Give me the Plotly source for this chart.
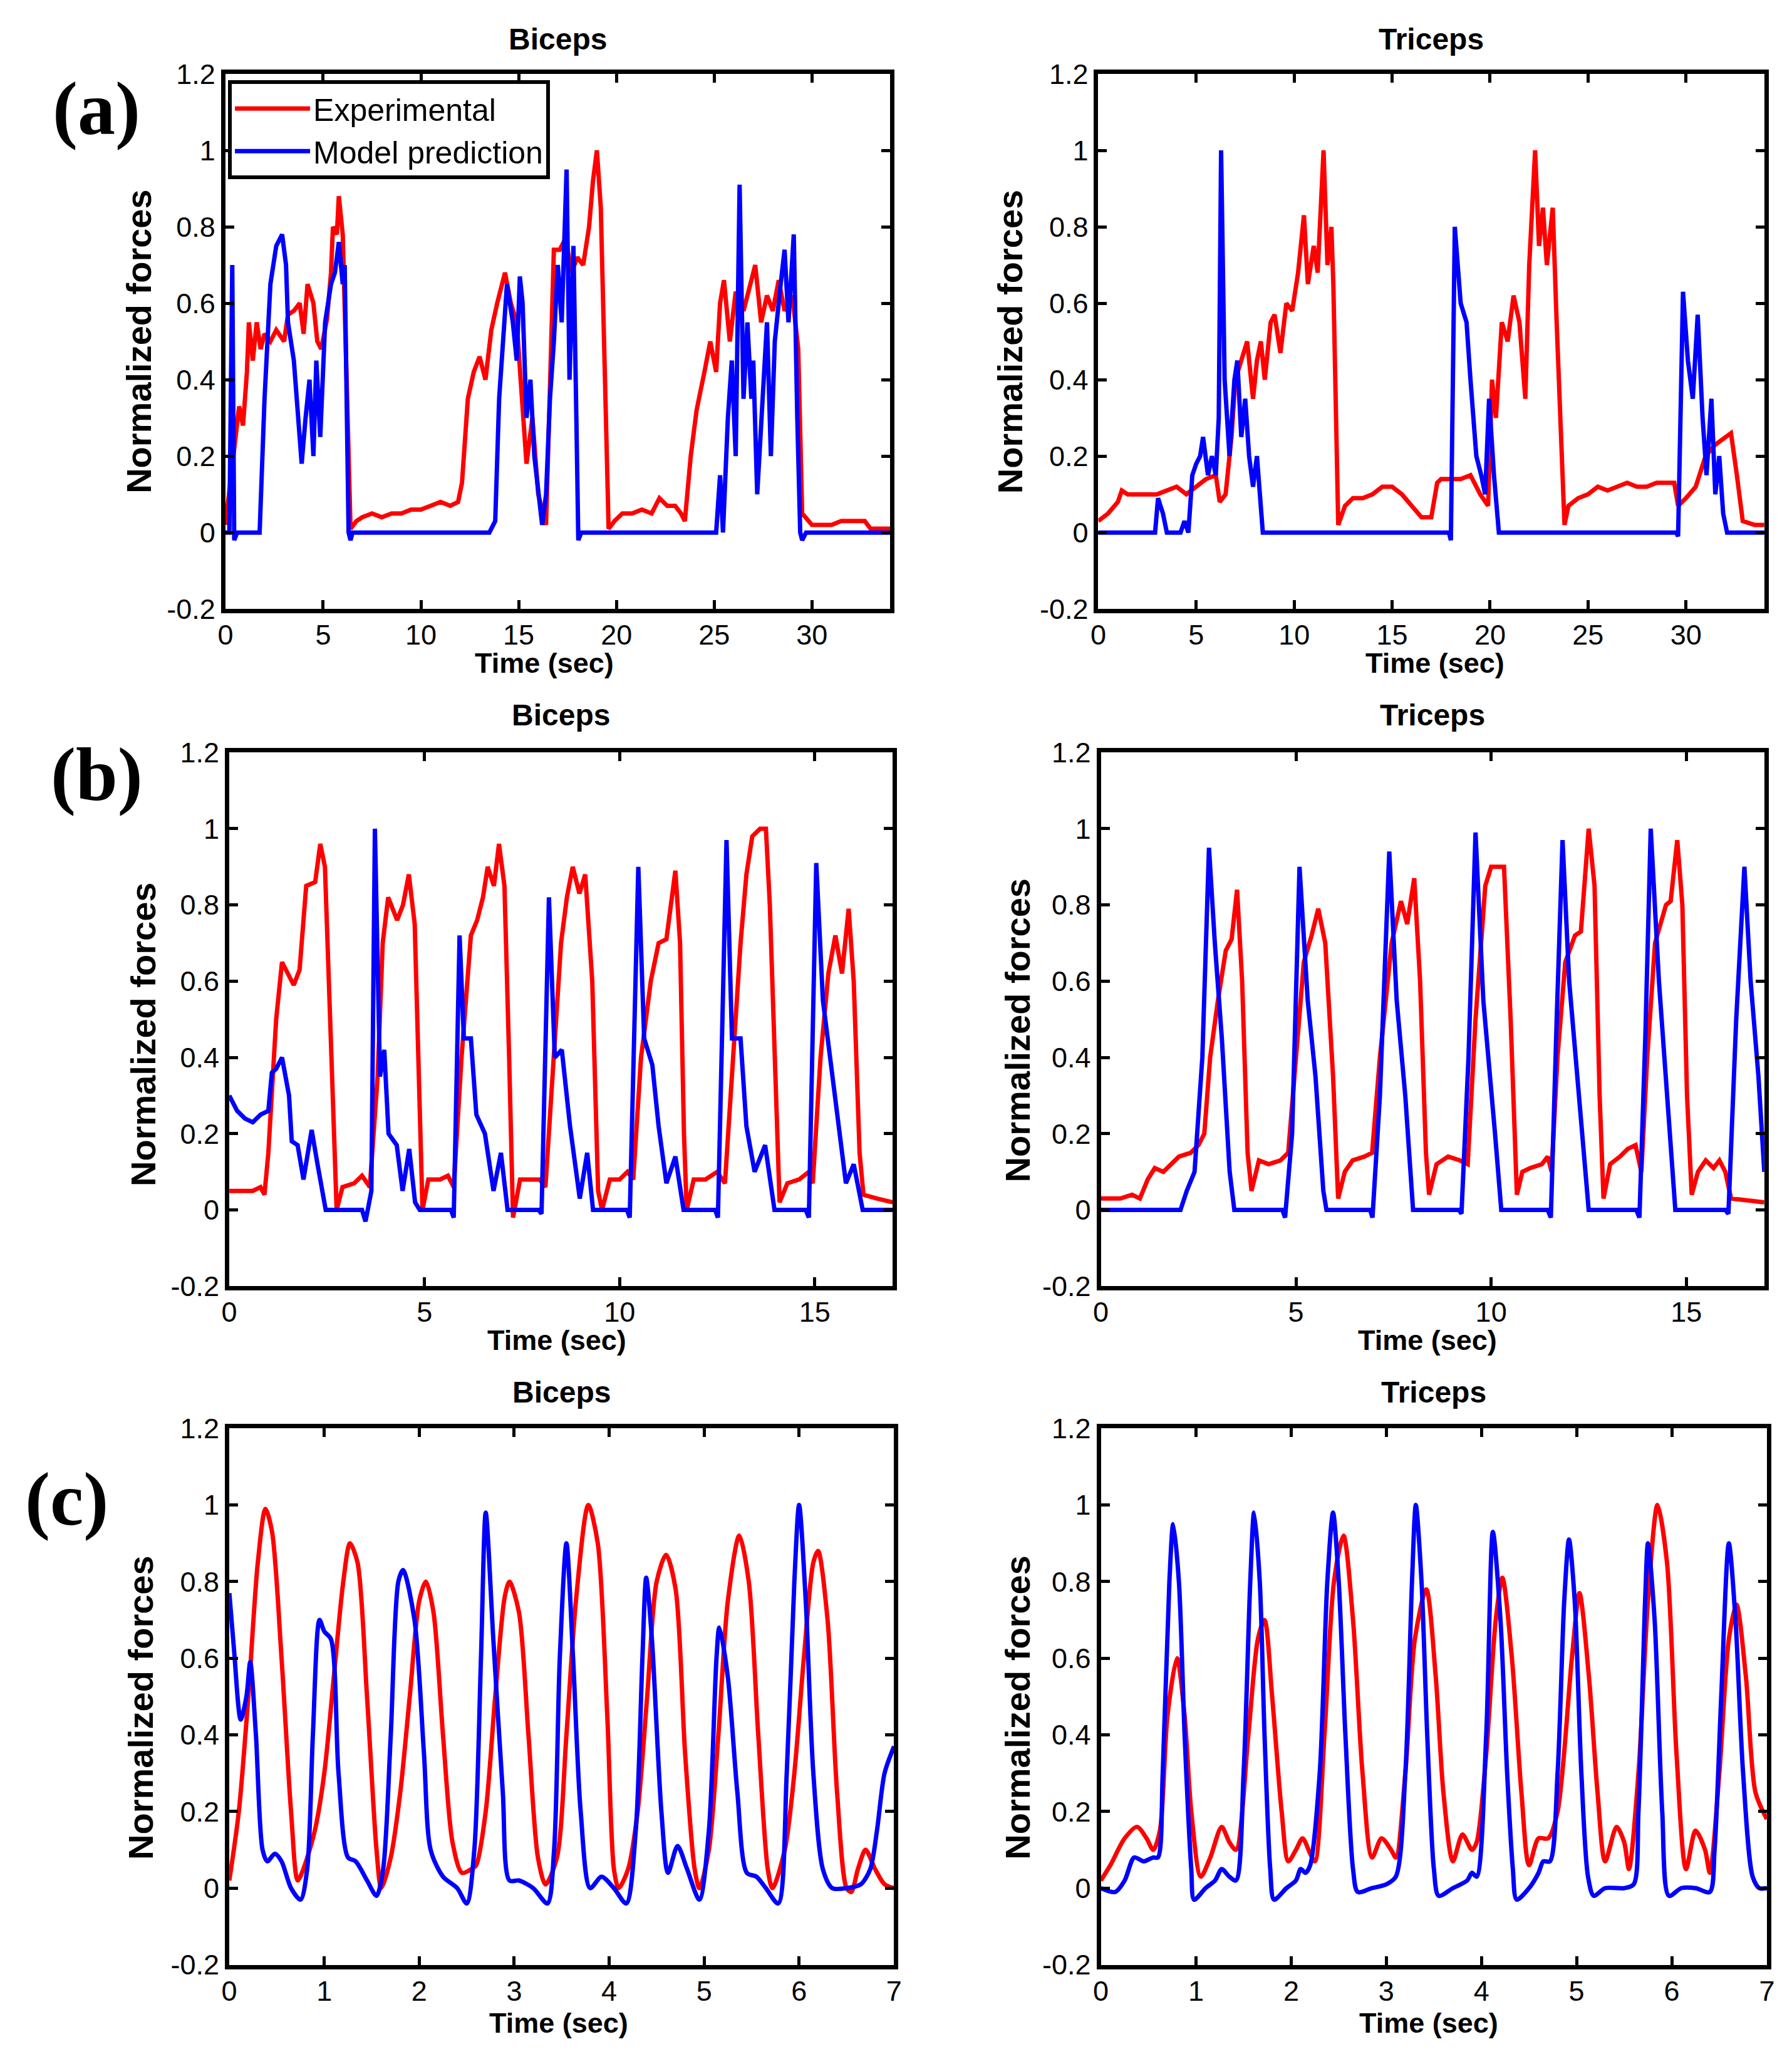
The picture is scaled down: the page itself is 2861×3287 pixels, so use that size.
import plotly.graph_objects as go

# ---------------- DATA ----------------
# (a) Biceps
a_bi_exp_t = [0,0.3,0.5,0.7,0.9,1.1,1.2,1.4,1.6,1.8,2.0,2.3,2.6,3.0,3.2,3.5,3.8,4.0,4.2,4.5,4.7,4.9,5.2,5.4,5.5,5.7,5.8,6.0,6.2,6.4,6.7,7.0,7.5,8.0,8.5,9.0,9.5,10.0,10.5,11.0,11.5,11.9,12.1,12.4,12.7,13.0,13.3,13.6,13.9,14.3,14.6,14.9,15.1,15.4,15.7,16.0,16.4,16.6,16.8,17.1,17.4,17.7,18.0,18.3,18.6,18.8,19.0,19.2,19.4,19.6,19.9,20.3,20.8,21.3,21.8,22.2,22.6,23.0,23.3,23.5,23.8,24.1,24.5,24.8,25.1,25.3,25.5,25.8,26.1,26.5,27.1,27.4,27.7,28.0,28.3,28.6,29.0,29.3,29.5,30.0,30.5,31.0,31.5,32.0,32.7,33.0,34.0]
a_bi_exp = [0.02,0.15,0.25,0.33,0.28,0.42,0.55,0.45,0.55,0.48,0.52,0.50,0.53,0.50,0.57,0.58,0.60,0.52,0.65,0.60,0.50,0.48,0.56,0.68,0.80,0.78,0.88,0.78,0.40,0.01,0.03,0.04,0.05,0.04,0.05,0.05,0.06,0.06,0.07,0.08,0.07,0.08,0.13,0.35,0.42,0.46,0.40,0.53,0.60,0.68,0.60,0.55,0.40,0.18,0.30,0.10,0.02,0.35,0.74,0.74,0.77,0.68,0.72,0.70,0.80,0.92,1.0,0.85,0.40,0.01,0.03,0.05,0.05,0.06,0.05,0.09,0.07,0.07,0.05,0.03,0.20,0.32,0.42,0.50,0.42,0.60,0.66,0.50,0.63,0.58,0.70,0.55,0.62,0.58,0.66,0.58,0.62,0.48,0.05,0.02,0.02,0.02,0.03,0.03,0.03,0.01,0.01]
a_bi_mod_t = [0,0.2,0.35,0.45,0.6,1.75,2.0,2.3,2.6,2.9,3.1,3.2,3.5,3.7,3.9,4.1,4.3,4.5,4.65,4.85,5.1,5.4,5.6,5.8,6.0,6.1,6.3,6.4,6.5,13.5,13.8,14.0,14.3,14.4,14.7,14.9,15.06,15.2,15.4,15.6,15.8,16.0,16.2,16.4,16.6,16.8,17.0,17.2,17.45,17.6,17.8,17.95,18.05,18.2,25.1,25.3,25.45,25.7,25.9,26.1,26.3,26.5,26.7,26.9,27.0,27.2,27.5,27.7,27.9,28.1,28.4,28.6,28.8,29.07,29.25,29.4,29.5,29.7,34.0]
a_bi_mod = [0.0,0.0,0.70,-0.02,0.0,0.0,0.35,0.65,0.75,0.78,0.70,0.55,0.45,0.30,0.18,0.30,0.40,0.20,0.45,0.25,0.55,0.65,0.68,0.76,0.65,0.70,0.0,-0.02,0.0,0.0,0.03,0.35,0.55,0.65,0.55,0.45,0.67,0.60,0.30,0.40,0.20,0.12,0.02,0.10,0.35,0.50,0.70,0.55,0.95,0.40,0.75,0.30,-0.02,0.0,0.0,0.15,0.0,0.30,0.45,0.20,0.91,0.35,0.55,0.35,0.45,0.10,0.40,0.55,0.20,0.50,0.65,0.74,0.55,0.78,0.30,0.0,-0.02,0.0,0.0]

# (a) Triceps
a_tri_exp_t = [0,0.5,1.0,1.2,1.5,2.0,2.5,3.0,3.5,4.0,4.5,5.0,5.5,6.0,6.2,6.5,6.8,7.0,7.3,7.6,7.9,8.1,8.3,8.5,8.8,9.0,9.3,9.6,9.9,10.2,10.5,10.7,11.0,11.2,11.5,11.7,11.9,12.0,12.25,12.6,13.0,13.5,14.0,14.5,15.0,15.5,16.0,16.5,17.0,17.3,17.5,18.0,18.5,19.0,19.5,19.9,20.1,20.3,20.6,20.9,21.2,21.5,21.8,22.0,22.3,22.5,22.7,22.9,23.2,23.4,23.8,24.0,24.5,25.0,25.5,26.0,26.5,27.0,27.5,28.0,28.5,29.0,29.4,29.6,30.0,30.5,31.0,31.5,32.0,32.3,32.6,32.9,33.5,34.0]
a_tri_exp = [0.03,0.05,0.08,0.11,0.10,0.10,0.10,0.10,0.11,0.12,0.10,0.12,0.14,0.15,0.08,0.10,0.25,0.40,0.45,0.50,0.35,0.45,0.50,0.40,0.55,0.57,0.47,0.60,0.58,0.68,0.83,0.65,0.75,0.68,1.0,0.70,0.80,0.65,0.02,0.07,0.09,0.09,0.10,0.12,0.12,0.10,0.07,0.04,0.04,0.13,0.14,0.14,0.14,0.15,0.10,0.07,0.40,0.30,0.55,0.50,0.62,0.55,0.35,0.70,1.0,0.75,0.85,0.70,0.85,0.55,0.02,0.07,0.09,0.10,0.12,0.11,0.12,0.13,0.12,0.12,0.13,0.13,0.13,0.07,0.09,0.12,0.20,0.23,0.25,0.26,0.15,0.03,0.02,0.02]
a_tri_mod_t = [0,2.9,3.05,3.3,3.5,4.2,4.4,4.6,4.8,5.0,5.2,5.35,5.6,5.8,6.0,6.15,6.27,6.45,6.7,6.95,7.1,7.3,7.5,7.7,7.9,8.1,8.4,17.9,18.0,18.2,18.5,18.8,19.0,19.3,19.55,19.75,19.95,20.2,20.45,29.5,29.6,29.85,30.1,30.35,30.6,30.85,31.05,31.3,31.5,31.7,31.9,32.1,34.0]
a_tri_mod = [0.0,0.0,0.09,0.05,0.0,0.0,0.03,0.0,0.15,0.18,0.20,0.25,0.15,0.20,0.15,0.30,1.0,0.40,0.20,0.40,0.45,0.25,0.35,0.20,0.12,0.20,0.0,0.0,-0.02,0.80,0.60,0.55,0.40,0.20,0.15,0.10,0.35,0.15,0.0,0.0,-0.01,0.63,0.45,0.35,0.57,0.30,0.15,0.35,0.10,0.20,0.05,0.0,0.0]

# (b) Biceps
b_bi_exp_t = [0,0.3,0.6,0.8,0.9,1.0,1.2,1.35,1.5,1.65,1.8,1.97,2.2,2.33,2.45,2.6,2.75,2.9,3.2,3.4,3.6,3.8,3.93,4.07,4.3,4.45,4.6,4.75,4.87,4.95,5.1,5.4,5.6,5.75,5.95,6.19,6.35,6.5,6.62,6.78,6.91,7.05,7.17,7.27,7.45,7.7,7.95,8.1,8.3,8.5,8.65,8.8,8.97,9.12,9.3,9.45,9.55,9.75,10.0,10.2,10.35,10.55,10.8,11.0,11.2,11.43,11.55,11.65,11.72,11.9,12.2,12.5,12.7,12.9,13.1,13.25,13.4,13.6,13.75,13.85,14.0,14.1,14.3,14.6,14.85,14.95,15.15,15.35,15.53,15.7,15.87,16.0,16.15,16.25,16.6,17.0]
b_bi_exp = [0.05,0.05,0.05,0.06,0.04,0.15,0.50,0.65,0.62,0.59,0.63,0.85,0.86,0.96,0.90,0.45,0.0,0.06,0.07,0.09,0.06,0.35,0.70,0.82,0.76,0.80,0.88,0.75,0.30,0.0,0.08,0.08,0.09,0.06,0.40,0.72,0.76,0.82,0.90,0.85,0.96,0.85,0.40,-0.02,0.08,0.08,0.08,0.06,0.40,0.70,0.82,0.90,0.83,0.88,0.60,0.05,0.0,0.08,0.08,0.10,0.08,0.40,0.60,0.70,0.71,0.89,0.70,0.20,0.0,0.08,0.08,0.10,0.07,0.40,0.70,0.88,0.98,1.0,1.0,0.80,0.30,0.02,0.07,0.08,0.10,0.07,0.40,0.62,0.72,0.62,0.79,0.60,0.15,0.04,0.03,0.02]
b_bi_mod_t = [0,0.2,0.4,0.6,0.8,1.0,1.09,1.2,1.35,1.53,1.6,1.75,1.9,2.11,2.26,2.47,3.4,3.49,3.64,3.73,3.86,3.97,4.08,4.29,4.44,4.61,4.76,4.88,5.68,5.75,5.9,6.01,6.19,6.33,6.55,6.77,6.96,7.13,7.93,8.0,8.19,8.34,8.52,8.73,8.98,9.17,9.32,10.19,10.26,10.48,10.63,10.84,11.0,11.2,11.43,11.64,12.45,12.52,12.74,12.88,13.1,13.25,13.46,13.73,13.97,14.77,14.85,15.04,15.21,15.4,15.6,15.8,16.0,16.23,17.0]
b_bi_mod = [0.30,0.26,0.24,0.23,0.25,0.26,0.36,0.37,0.40,0.30,0.18,0.17,0.08,0.21,0.12,0.0,0.0,-0.03,0.05,1.0,0.35,0.42,0.20,0.17,0.05,0.16,0.02,0.0,0.0,-0.02,0.72,0.45,0.45,0.25,0.20,0.05,0.15,0.0,0.0,-0.01,0.82,0.40,0.42,0.22,0.03,0.15,0.0,0.0,-0.02,0.90,0.45,0.38,0.22,0.07,0.14,0.0,0.0,-0.02,0.97,0.45,0.45,0.22,0.10,0.17,0.0,0.0,-0.02,0.91,0.55,0.40,0.25,0.07,0.12,0.0,0.0]

# (b) Triceps
b_tri_exp_t = [0,0.5,0.8,1.0,1.2,1.38,1.6,1.8,2.0,2.3,2.5,2.65,2.8,3.0,3.2,3.35,3.49,3.62,3.76,3.86,4.05,4.3,4.6,4.8,5.0,5.2,5.4,5.57,5.75,5.95,6.08,6.25,6.45,6.75,6.95,7.15,7.45,7.69,7.85,8.03,8.18,8.33,8.41,8.6,8.9,9.2,9.4,9.6,9.85,10.0,10.33,10.5,10.66,10.8,11.0,11.3,11.45,11.55,11.7,11.9,12.15,12.3,12.5,12.65,12.78,12.88,13.05,13.3,13.5,13.7,13.85,14.0,14.2,14.48,14.6,14.77,14.9,15.02,15.14,15.3,15.5,15.7,15.85,16.0,16.15,17.0]
b_tri_exp = [0.03,0.03,0.04,0.03,0.08,0.11,0.10,0.12,0.14,0.15,0.17,0.20,0.40,0.55,0.68,0.71,0.84,0.60,0.15,0.05,0.13,0.12,0.13,0.15,0.40,0.65,0.72,0.79,0.70,0.35,0.03,0.10,0.13,0.14,0.15,0.40,0.70,0.81,0.75,0.87,0.60,0.15,0.04,0.12,0.14,0.13,0.12,0.50,0.85,0.90,0.90,0.50,0.04,0.10,0.11,0.12,0.14,0.10,0.40,0.65,0.72,0.73,1.0,0.85,0.30,0.03,0.12,0.14,0.16,0.17,0.10,0.40,0.70,0.80,0.81,0.97,0.80,0.30,0.04,0.10,0.13,0.11,0.13,0.10,0.03,0.02]
b_tri_mod_t = [0,2.04,2.2,2.4,2.6,2.77,2.92,3.1,3.3,3.42,4.65,4.72,4.9,5.09,5.3,5.5,5.7,5.78,6.9,6.96,7.15,7.39,7.58,7.8,8.0,9.18,9.24,9.42,9.6,9.8,10.1,10.26,11.45,11.53,11.68,11.83,12.0,12.3,12.5,13.72,13.8,13.95,14.09,14.3,14.5,14.72,16.0,16.08,16.28,16.49,16.65,16.85,17.0]
b_tri_mod = [0.0,0.0,0.05,0.10,0.40,0.95,0.70,0.45,0.10,0.0,0.0,-0.02,0.20,0.90,0.55,0.35,0.05,0.0,0.0,-0.02,0.30,0.94,0.55,0.30,0.0,0.0,-0.01,0.40,0.99,0.55,0.20,0.0,0.0,-0.02,0.50,0.97,0.60,0.25,0.0,0.0,-0.02,0.45,1.0,0.60,0.30,0.0,0.0,-0.01,0.50,0.90,0.60,0.35,0.10]

# (c) Biceps
c_bi_exp_t = [0,0.1,0.2,0.3,0.38,0.45,0.55,0.65,0.72,0.78,0.9,1.0,1.1,1.2,1.27,1.35,1.45,1.55,1.6,1.7,1.8,1.9,2.0,2.07,2.15,2.25,2.35,2.45,2.55,2.6,2.7,2.8,2.9,2.95,3.05,3.15,3.25,3.33,3.45,3.55,3.65,3.78,3.88,3.98,4.05,4.1,4.2,4.3,4.4,4.5,4.6,4.7,4.8,4.9,4.95,5.05,5.15,5.25,5.37,5.47,5.57,5.67,5.72,5.85,5.95,6.05,6.15,6.2,6.3,6.4,6.5,6.55,6.62,6.7,6.8,6.9,7.0]
c_bi_exp = [0.02,0.20,0.50,0.85,0.99,0.93,0.60,0.20,0.02,0.05,0.15,0.30,0.55,0.80,0.90,0.85,0.50,0.10,0.0,0.08,0.25,0.50,0.75,0.80,0.72,0.40,0.12,0.04,0.05,0.06,0.20,0.50,0.76,0.80,0.72,0.40,0.08,0.01,0.08,0.40,0.75,1.0,0.90,0.45,0.05,0.0,0.05,0.20,0.50,0.80,0.87,0.78,0.35,0.05,0.0,0.10,0.40,0.75,0.92,0.80,0.40,0.05,0.0,0.10,0.30,0.60,0.85,0.88,0.70,0.25,0.0,-0.01,0.05,0.10,0.05,0.01,0.0]
c_bi_mod_t = [0,0.05,0.12,0.18,0.22,0.28,0.35,0.4,0.48,0.55,0.65,0.75,0.82,0.88,0.95,1.0,1.07,1.15,1.25,1.33,1.45,1.55,1.62,1.7,1.78,1.83,1.95,2.05,2.12,2.25,2.4,2.5,2.58,2.65,2.7,2.78,2.88,2.95,3.05,3.2,3.35,3.42,3.48,3.55,3.62,3.7,3.8,3.92,4.05,4.18,4.28,4.35,4.39,4.45,4.55,4.62,4.72,4.82,4.95,5.05,5.13,5.16,5.25,5.35,5.45,5.55,5.65,5.78,5.87,5.95,6.0,6.07,6.15,6.25,6.35,6.5,6.65,6.75,6.82,6.9,7.0]
c_bi_mod = [0.77,0.62,0.44,0.50,0.59,0.40,0.10,0.07,0.09,0.07,0.0,-0.03,0.05,0.40,0.70,0.67,0.65,0.30,0.08,0.07,0.02,-0.02,0.05,0.40,0.80,0.83,0.70,0.35,0.10,0.03,0.0,-0.04,0.10,0.60,0.98,0.65,0.25,0.02,0.02,0.0,-0.04,0.10,0.60,0.90,0.60,0.20,0.0,0.03,0.0,-0.04,0.15,0.60,0.81,0.65,0.20,0.04,0.11,0.05,-0.03,0.15,0.60,0.68,0.55,0.25,0.04,0.03,0.0,-0.04,0.30,0.80,1.0,0.75,0.30,0.05,0.0,0.0,0.01,0.05,0.15,0.30,0.37]

# (c) Triceps
c_tri_exp_t = [0,0.1,0.25,0.38,0.48,0.55,0.62,0.7,0.8,0.88,0.95,1.05,1.15,1.27,1.35,1.42,1.55,1.65,1.72,1.8,1.9,1.97,2.05,2.12,2.2,2.25,2.35,2.45,2.55,2.65,2.75,2.85,2.95,3.05,3.1,3.2,3.3,3.42,3.52,3.6,3.7,3.8,3.9,3.95,4.05,4.15,4.22,4.32,4.42,4.5,4.6,4.7,4.8,4.95,5.03,5.13,5.22,5.3,5.42,5.5,5.55,5.65,5.75,5.85,5.95,6.05,6.15,6.25,6.35,6.4,6.5,6.6,6.68,6.78,6.88,7.0]
c_tri_exp = [0.02,0.06,0.13,0.16,0.13,0.10,0.15,0.45,0.60,0.45,0.20,0.03,0.08,0.16,0.12,0.10,0.40,0.65,0.70,0.50,0.20,0.07,0.10,0.13,0.09,0.07,0.40,0.80,0.92,0.70,0.30,0.08,0.13,0.10,0.08,0.30,0.65,0.78,0.55,0.25,0.07,0.14,0.10,0.12,0.35,0.70,0.81,0.60,0.25,0.06,0.13,0.13,0.20,0.60,0.77,0.55,0.25,0.07,0.16,0.12,0.05,0.30,0.75,1.0,0.85,0.35,0.05,0.15,0.10,0.04,0.30,0.65,0.74,0.55,0.25,0.18]
c_tri_mod_t = [0,0.15,0.25,0.35,0.45,0.55,0.6,0.65,0.72,0.76,0.82,0.88,0.95,0.98,1.1,1.2,1.27,1.35,1.42,1.5,1.57,1.61,1.67,1.72,1.78,1.82,1.95,2.05,2.1,2.15,2.2,2.3,2.38,2.44,2.5,2.57,2.65,2.7,2.85,3.0,3.1,3.2,3.27,3.31,3.37,3.43,3.5,3.55,3.7,3.85,3.9,3.95,4.05,4.12,4.2,4.27,4.33,4.37,4.5,4.6,4.65,4.72,4.8,4.87,4.92,4.98,5.05,5.12,5.18,5.3,5.5,5.6,5.65,5.72,5.75,5.82,5.9,5.97,6.1,6.25,6.4,6.45,6.52,6.6,6.67,6.75,6.85,6.92,7.0]
c_tri_mod = [0.0,-0.01,0.02,0.08,0.07,0.08,0.08,0.30,0.80,0.95,0.80,0.40,0.05,-0.03,0.0,0.02,0.05,0.03,0.02,0.30,0.80,0.98,0.80,0.40,0.05,-0.03,0.0,0.02,0.05,0.04,0.06,0.30,0.80,0.98,0.80,0.40,0.05,-0.01,0.0,0.01,0.03,0.30,0.80,1.0,0.80,0.40,0.05,-0.02,0.0,0.02,0.04,0.03,0.40,0.93,0.70,0.30,0.05,-0.03,0.0,0.04,0.07,0.07,0.30,0.75,0.91,0.75,0.30,0.03,-0.02,0.0,0.0,0.01,0.20,0.75,0.90,0.70,0.20,-0.02,0.0,0.0,-0.01,0.10,0.50,0.90,0.70,0.30,0.03,0.0,0.0]

y_tickvals = [-0.2, 0, 0.2, 0.4, 0.6, 0.8, 1.0, 1.2]
y_ticktext = ["-0.2", "0", "0.2", "0.4", "0.6", "0.8", "1", "1.2"]
x_ticks_a = [0, 5, 10, 15, 20, 25, 30]
x_ticks_b = [0, 5, 10, 15]
x_ticks_c = [0, 1, 2, 3, 4, 5, 6, 7]
x_ranges = [[0, 34], [0, 17], [0, 7]]
panel_titles = ["Biceps", "Triceps"]
row_labels = ["(a)", "(b)", "(c)"]

# ---------------- LAYOUT GEOMETRY ----------------
# positions measured on the reference at a 1365x1568 grid; the page body has an 8px margin
PAGE_W, PAGE_H = 2861, 3287
BODY = 8
W, H = PAGE_W - 2 * BODY, PAGE_H - 2 * BODY
S = PAGE_W / 1365.0
def px(x): return (x * S - BODY) / W
def py(y): return 1 - (y * S - BODY) / H

# axes boxes: (left, right, top, bottom)
boxes = [
    [(167, 678, 45, 459), (838, 1350, 45, 459)],
    [(170, 680, 570, 983), (840, 1350, 570, 983)],
    [(170, 681, 1093, 1508), (840, 1352, 1093, 1508)],
]
title_y = [18, 541, 1065]
xlab_gap = [42, 42, 45]
xlabel_x = [[412, 1097], [422, 1091], [423, 1092]]
ylabel_pos = [[(100, 252), (770, 252)], [(104, 788), (776, 785)], [(102, 1309), (776, 1309)]]
row_label_pos = [(68, 72), (68, 587), (45, 1148)]

data = [
    [(a_bi_exp_t, a_bi_exp, a_bi_mod_t, a_bi_mod), (a_tri_exp_t, a_tri_exp, a_tri_mod_t, a_tri_mod)],
    [(b_bi_exp_t, b_bi_exp, b_bi_mod_t, b_bi_mod), (b_tri_exp_t, b_tri_exp, b_tri_mod_t, b_tri_mod)],
    [(c_bi_exp_t, c_bi_exp, c_bi_mod_t, c_bi_mod), (c_tri_exp_t, c_tri_exp, c_tri_mod_t, c_tri_mod)],
]
x_ticks = [x_ticks_a, x_ticks_b, x_ticks_c]

RED = "rgb(255,0,0)"
BLUE = "rgb(0,0,255)"
FONT = "Liberation Sans, Arial, sans-serif"
LW = 7

fig = go.Figure()
layout = dict(
    width=W, height=H,
    margin=dict(l=0, r=0, t=0, b=0),
    paper_bgcolor="white", plot_bgcolor="white",
    showlegend=True,
    legend=dict(
        x=px(169), y=py(50), xanchor="left", yanchor="top",
        bgcolor="white", bordercolor="black", borderwidth=6,
        font=dict(family=FONT, size=50, color="black"),
        itemwidth=120, tracegroupgap=0,
    ),
    annotations=[],
)

idx = 0
for r in range(3):
    for c in range(2):
        idx += 1
        xa = "xaxis" if idx == 1 else f"xaxis{idx}"
        ya = "yaxis" if idx == 1 else f"yaxis{idx}"
        xref = "x" if idx == 1 else f"x{idx}"
        yref = "y" if idx == 1 else f"y{idx}"
        L, R, T, B = boxes[r][c]
        et, ev, mt, mv = data[r][c]
        shape = "spline" if r == 2 else "linear"
        fig.add_trace(go.Scatter(x=et, y=ev, mode="lines", name="Experimental",
                                 line=dict(color=RED, width=LW, shape=shape, smoothing=0.8),
                                 xaxis=xref, yaxis=yref, showlegend=(idx == 1)))
        fig.add_trace(go.Scatter(x=mt, y=mv, mode="lines", name="Model prediction",
                                 line=dict(color=BLUE, width=LW, shape=shape, smoothing=0.8),
                                 xaxis=xref, yaxis=yref, showlegend=(idx == 1)))
        common = dict(showgrid=False, zeroline=False, showline=True, linecolor="black",
                      linewidth=7, mirror="ticks", ticks="inside", ticklen=14, tickwidth=5,
                      tickcolor="black",
                      tickfont=dict(family=FONT, size=45, color="black"))
        layout[xa] = dict(common, domain=[px(L), px(R)], range=x_ranges[r],
                          tickvals=x_ticks[r], ticktext=[str(v) for v in x_ticks[r]],
                          ticklabelstandoff=-4, anchor=yref)
        layout[ya] = dict(common, domain=[py(B), py(T)], range=[-0.2, 1.2],
                          tickvals=y_tickvals, ticktext=y_ticktext, anchor=xref)
        layout["annotations"].append(dict(
            text=f"<b>{panel_titles[c]}</b>", x=px((L + R) / 2), y=py(title_y[r]),
            xref="paper", yref="paper", showarrow=False, xanchor="center", yanchor="middle",
            font=dict(family=FONT, size=48, color="black")))
        layout["annotations"].append(dict(
            text="<b>Time (sec)</b>", x=px(xlabel_x[r][c]), y=py(B + xlab_gap[r]),
            xref="paper", yref="paper",
            showarrow=False, xanchor="center", yanchor="middle",
            font=dict(family=FONT, size=45, color="black")))
        xl, yl = ylabel_pos[r][c]
        layout["annotations"].append(dict(
            text="<b>Normalized forces</b>", x=px(xl), y=py(yl), xref="paper", yref="paper",
            showarrow=False, xanchor="center", yanchor="middle", textangle=-90,
            font=dict(family=FONT, size=56, color="black")))

for r in range(3):
    xl, yl = row_label_pos[r]
    layout["annotations"].append(dict(
        text=f"<b>{row_labels[r]}</b>", x=px(xl), y=py(yl), xref="paper", yref="paper",
        showarrow=False, xanchor="center", yanchor="middle",
        font=dict(family="Liberation Serif, Times New Roman, serif", size=120, color="black")))

fig.update_layout(**layout)
fig.write_html("out.html")
